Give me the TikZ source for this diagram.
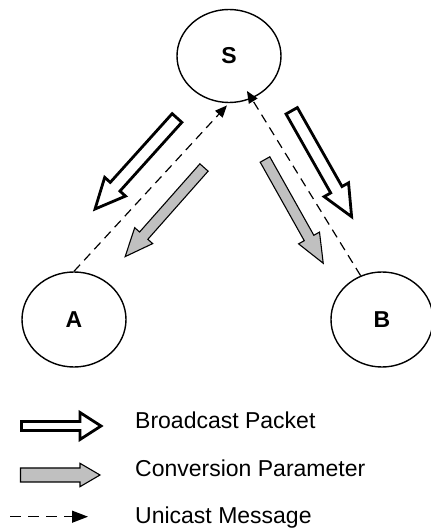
\documentclass[tikz,border=0pt]{standalone}
\usepackage{fontspec}
\setmainfont{Liberation Sans}
\usetikzlibrary{arrows.meta,shapes.geometric}
\definecolor{grayfill}{RGB}{192,192,192}
\tikzset{
  station/.style={ellipse, draw, line width=1.4pt, minimum width=104pt, minimum height=93pt, inner sep=0pt, font=\fontsize{23}{27}\selectfont\bfseries},
  bcast/.style={draw, fill=white, line width=2.8pt, line join=miter, miter limit=10},
  conv/.style={draw, fill=grayfill, line width=1.1pt, line join=miter, miter limit=10},
  uni/.style={line width=1.2pt, dash pattern=on 9pt off 6pt, -{Triangle[length=12pt,width=10pt]}},
  unileg/.style={line width=1.2pt, dash pattern=on 11pt off 7pt, -{Triangle[length=16pt,width=12pt]}},
  legtext/.style={anchor=base west, inner sep=0pt, font=\fontsize{23}{28}\selectfont}
}
\newcommand\blkarrow[7]{%
  \begin{scope}[shift={#2}, rotate=#3]
    \draw[#1] (0,-#5) -- ({#4-#7},-#5) -- ({#4-#7},-#6) -- (#4,0) -- ({#4-#7},#6) -- ({#4-#7},#5) -- (0,#5) -- cycle;
  \end{scope}}
\begin{document}
\begin{tikzpicture}[x=1pt,y=1pt]
\useasboundingbox (0,0) rectangle (431,531);
% stations
\node[station] (S) at (229,475) {S};
\node[station, minimum height=95pt] (A) at (74,211.5) {A};
\node[station, minimum width=102pt, minimum height=95pt] (B) at (382,211.5) {B};
% unicast messages
\draw[uni, shorten >=3pt] (A.north) -- (S.south);
\draw[uni, shorten >=-9pt] (B.116) -- (S.-62);
% block arrows
\blkarrow{bcast}{(177,413)}{228}{122.5}{6.5}{14}{30}
\blkarrow{conv}{(204,363.5)}{228.5}{119}{5.5}{12}{28}
\blkarrow{bcast}{(291.7,420.2)}{-60.5}{121.7}{6.5}{14}{31}
\blkarrow{conv}{(265,371.5)}{-60.7}{119}{5.5}{12}{29}
% legend
\blkarrow{bcast}{(21.5,105)}{0}{79.5}{4.5}{13.5}{21}
\blkarrow{conv}{(20.5,56)}{0}{79.5}{7}{11.7}{20}
\coordinate (u1) at (10,14.3);
\coordinate (u2) at (88,14.3);
\draw[unileg] (u1) -- (u2);
\node[legtext] (t1) at (135,102) {Broadcast Packet};
\node[legtext] (t2) at (135,54) {Conversion Parameter};
\node[legtext] (t3) at (135,8) {Unicast Message};
\end{tikzpicture}
\end{document}
